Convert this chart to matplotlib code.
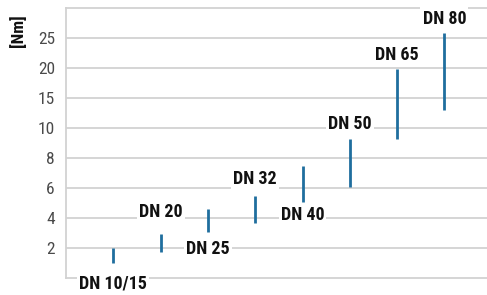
import numpy as np
import matplotlib
matplotlib.use("Agg")
import matplotlib.pyplot as plt
from matplotlib import font_manager

# torque ranges per valve size
sizes = ["DN 10/15", "DN 20", "DN 25", "DN 32", "DN 40", "DN 50", "DN 65", "DN 80"]
t_min = [1.0, 1.75, 3.1, 3.65, 5.1, 6.05, 9.3, 13.0]
t_max = [2.0, 2.95, 4.6, 5.45, 7.5, 9.25, 19.8, 25.9]
y_ticks = [2, 4, 6, 8, 10, 15, 20, 25]

# label placement: above (+) or below (-) the bar, offset in px
label_off = [-20, 22, -17.5, 17, -14, 15, 14.5, 14]

# pick a narrow font if present
names = {f.name for f in font_manager.fontManager.ttflist}
fam = "DejaVu Sans"
for cand in ["Liberation Sans Narrow", "Roboto Condensed", "DejaVu Sans Condensed", "Liberation Sans"]:
    if cand in names:
        fam = cand
        break
plt.rcParams["font.family"] = [fam, "DejaVu Sans"]

# evenly spaced ticks on a piecewise axis
scale_v = [0] + y_ticks + [30]
scale_i = list(range(len(scale_v)))
fwd = lambda v: np.interp(v, scale_v, scale_i)
inv = lambda i: np.interp(i, scale_i, scale_v)

fig = plt.figure(figsize=(4.87, 2.95), dpi=100)
ax = fig.add_axes([66 / 487, 17 / 295, 421 / 487, 270 / 295])
ax.set_yscale("function", functions=(fwd, inv))
ax.set_ylim(0, 30)
ax.set_xlim(0, 8.9)

grid_c = "#d2d2d2"
ax.set_yticks(y_ticks)
ax.set_yticklabels([str(t) for t in y_ticks], fontsize=12.5, color="#4a4a4a")
ax.set_xticks([])
ax.tick_params(axis="y", length=0, pad=8)
ax.grid(axis="y", color=grid_c, lw=1.3)
ax.set_axisbelow(True)
for s in ["left", "bottom", "top"]:
    ax.spines[s].set_color(grid_c)
    ax.spines[s].set_linewidth(1.3)
ax.spines["right"].set_visible(False)

xs = np.arange(1, len(sizes) + 1)
ax.vlines(xs, t_min, t_max, color="#1f6e9e", lw=2, zorder=3)

for x, name, lo, hi, off in zip(xs, sizes, t_min, t_max, label_off):
    yv = hi if off > 0 else lo
    ax.annotate(name, (x, yv), xytext=(0, off * 0.72), textcoords="offset points",
                ha="center", va="center", fontsize=13, fontweight="bold", color="#111111",
                bbox=dict(fc="white", ec="none", pad=1.5), annotation_clip=False, zorder=4)

fig.text(18 / 487, 1 - 31 / 295, "[Nm]", rotation=90, ha="center", va="center",
         fontsize=12.5, fontweight="bold", color="#111111")

fig.savefig("out.png", dpi=100)
